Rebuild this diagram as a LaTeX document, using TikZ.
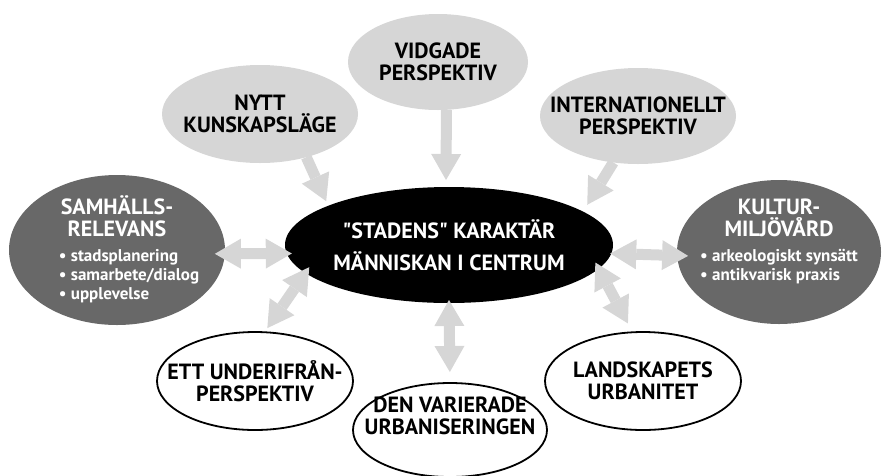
\documentclass[tikz,border=0pt]{standalone}
\usepackage{fontspec}
\setmainfont{PT Sans}
\usetikzlibrary{shapes.geometric,arrows.meta}

\definecolor{lightgr}{RGB}{214,214,214}
\definecolor{darkgr}{RGB}{104,104,104}

\tikzset{
  bub/.style={ellipse, inner sep=0pt, outer sep=0pt},
  lightbub/.style={bub, fill=lightgr},
  darkbub/.style={bub, fill=darkgr},
  whitebub/.style={bub, draw=black, line width=1.8pt, fill=white},
  blackbub/.style={bub, fill=black},
  bubtext/.style={align=center, inner sep=0pt, font=\bfseries\fontsize{22}{22}\selectfont},
  fat/.style={draw=lightgr, line width=11pt},
  oneway/.style={fat, -{Triangle[length=26pt,width=30pt,line width=0pt]}},
  twoway/.style={fat, {Triangle[length=26pt,width=30pt,line width=0pt]}-{Triangle[length=26pt,width=30pt,line width=0pt]}}
}

\begin{document}
\begin{tikzpicture}[x=1pt,y=-1pt]
  \useasboundingbox (0,0) rectangle (883,475);

  % outer ring
  \node [lightbub, minimum width=180pt, minimum height=96pt,
    label={[bubtext]center:VIDGADE\\PERSPEKTIV}] (vidgade) at (438,62) {};
  \node [lightbub, minimum width=196pt, minimum height=98pt,
    label={[bubtext]center:NYTT\\KUNSKAPSLÄGE}] (nytt) at (260,114) {};
  \node [lightbub, minimum width=196pt, minimum height=96pt,
    label={[bubtext]center:INTERNATIONELLT\\PERSPEKTIV}] (intl) at (638,116) {};
  \node [darkbub, minimum width=216pt, minimum height=150pt,
    label={[bubtext, text=white]center:SAMHÄLLS-\\RELEVANS\\[3pt]{\fontsize{17}{19}\selectfont
      \begin{tabular}[t]{@{\hspace{24pt}}l@{}}\textbullet\ stadsplanering\\ \textbullet\ samarbete/dialog\\ \textbullet\ upplevelse\end{tabular}}}] (samhall) at (117,250) {};
  \node [darkbub, minimum width=204pt, minimum height=144pt,
    label={[bubtext, text=white, yshift=9pt]center:KULTUR-\\MILJÖVÅRD\\[3pt]{\fontsize{17}{19}\selectfont
      \begin{tabular}[t]{@{}l@{}}\textbullet\ arkeologiskt synsätt\\ \textbullet\ antikvarisk praxis\end{tabular}}}] (kultur) at (779,252) {};
  \node [whitebub, minimum width=196pt, minimum height=98pt,
    label={[bubtext]center:ETT UNDERIFRÅN-\\PERSPEKTIV}] (ett) at (255,381) {};
  \node [whitebub, minimum width=194pt, minimum height=94pt,
    label={[bubtext, yshift=14pt]center:DEN VARIERADE\\URBANISERINGEN}] (varierade) at (450,430) {};
  \node [whitebub, minimum width=196pt, minimum height=98pt,
    label={[bubtext]center:LANDSKAPETS\\URBANITET}] (landskap) at (643,381) {};

  % the hub
  \node [blackbub, minimum width=328pt, minimum height=116pt,
    label={[bubtext, text=white, font=\bfseries\fontsize{22}{32}\selectfont]center:\textquotedbl STADENS\textquotedbl\ KARAKTÄR\\MÄNNISKAN I CENTRUM}] (stad) at (449,245) {};

  % inflow
  \draw [oneway, shorten >=5pt] (nytt.-43) -- (stad.162);
  \draw [oneway, shorten >=7pt] (vidgade.-80.5) -- (stad.93);
  \draw [oneway, shorten >=8pt] (intl.-118) -- (stad.14);

  % exchange
  \draw [twoway, shorten <=-10pt, shorten >=-5pt] (samhall.-2) -- (stad.183);
  \draw [twoway, shorten <=-1pt, shorten >=-11pt] (stad.-3) -- (kultur.182);
  \draw [twoway, shorten <=-7pt, shorten >=5pt] (stad.191) -- (ett.79);
  \draw [twoway, shorten <=-3pt, shorten >=11pt] (stad.south) -- (varierade.north);
  \draw [twoway, shorten <=-7pt, shorten >=10pt] (stad.-9) -- (landskap.102.7);
\end{tikzpicture}
\end{document}
